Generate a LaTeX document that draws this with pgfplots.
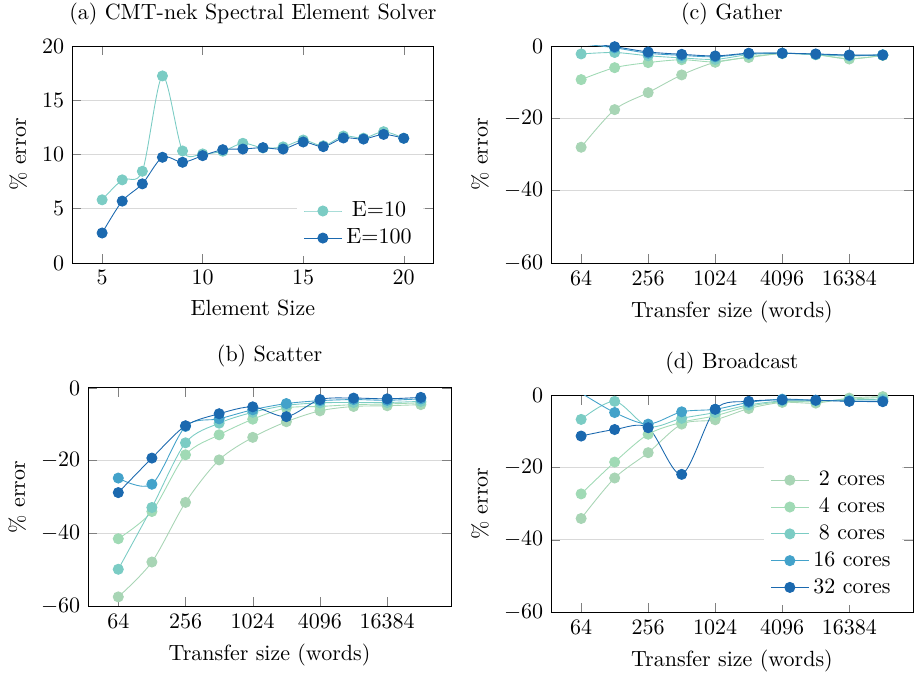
\documentclass[border=0pt]{standalone}
\usepackage{pgfplots}
\pgfplotsset{compat=1.18}
\definecolor{cA}{HTML}{A8D5B5}
\definecolor{cB}{HTML}{A0DAB5}
\definecolor{cC}{HTML}{7BCCC4}
\definecolor{cD}{HTML}{43A2CA}
\definecolor{cE}{HTML}{1B69AF}
\pgfplotsset{
  myaxis/.style={
    scale only axis,
    anchor=south west,
    ymajorgrids,
    major grid style={black!15},
    enlarge x limits=0.1,
    enlarge y limits=false,
    legend style={draw=none,fill=white},
    legend cell align=center,
    ylabel={\% error},
  },
  logaxis/.style={
    myaxis,
    xtick={64,256,1024,4096,16384},
    xticklabels={64,256,1024,4096,16384},
    ymin=-60, ymax=0,
    ytick={-60,-40,-20,0},
    xlabel={Transfer size (words)},
  },
  sA/.style={color=cA, mark=*, mark size=2.3pt, smooth, mark options={solid,fill=cA}},
  sB/.style={color=cB, mark=*, mark size=2.3pt, smooth, mark options={solid,fill=cB}},
  sC/.style={color=cC, mark=*, mark size=2.3pt, smooth, mark options={solid,fill=cC}},
  sD/.style={color=cD, mark=*, mark size=2.3pt, smooth, mark options={solid,fill=cD}},
  sE/.style={color=cE, mark=*, mark size=2.3pt, smooth, mark options={solid,fill=cE}},
}
\begin{document}
\begin{tikzpicture}
\path[use as bounding box] (0,0) rectangle (416.3pt,-307.2pt);
% (a)
\begin{axis}[myaxis, at={(32.7pt,-119.5pt)}, width=164.5pt, height=98.6pt,
  title={(a) CMT-nek Spectral Element Solver},
  xlabel={Element Size},
  ymin=0, ymax=20, ytick={0,5,10,15,20}, xtick={5,10,15,20},
  legend pos=south east]
\addplot[sC] coordinates {(5,5.82) (6,7.66) (7,8.45) (8,17.24) (9,10.32) (10,10.05) (11,10.3) (12,11.03) (13,10.6) (14,10.7) (15,11.33) (16,10.8) (17,11.7) (18,11.5) (19,12.1) (20,11.5)};
\addlegendentry{E=10}
\addplot[sE] coordinates {(5,2.76) (6,5.70) (7,7.29) (8,9.74) (9,9.28) (10,9.89) (11,10.44) (12,10.5) (13,10.63) (14,10.5) (15,11.15) (16,10.72) (17,11.52) (18,11.42) (19,11.85) (20,11.49)};
\addlegendentry{E=100}
\end{axis}
% (c)
\begin{axis}[xmode=log, log basis x=2, logaxis, at={(250.4pt,-119.5pt)}, width=164.5pt, height=98.6pt,
  title={(c) Gather}]
\addplot[sA] coordinates {(64,-28.0) (128,-17.6) (256,-12.9) (512,-8.0) (1024,-4.5) (2048,-3.2) (4096,-2.1) (8192,-2.4) (16384,-3.6) (32768,-2.6)};
\addplot[sB] coordinates {(64,-9.3) (128,-6.0) (256,-4.6) (512,-3.8) (1024,-4.4) (2048,-3.0) (4096,-2.1) (8192,-2.4) (16384,-3.5) (32768,-2.6)};
\addplot[sC] coordinates {(64,-2.2) (128,-1.8) (256,-2.7) (512,-3.3) (1024,-3.7) (2048,-2.4) (4096,-2.0) (8192,-2.4) (16384,-2.8) (32768,-2.4)};
\addplot[sD] coordinates {(64,0.6) (128,-0.5) (256,-2.0) (512,-2.6) (1024,-3.0) (2048,-2.1) (4096,-2.0) (8192,-2.3) (16384,-2.6) (32768,-2.5)};
\addplot[sE] coordinates {(64,1.0) (128,-0.2) (256,-1.65) (512,-2.3) (1024,-2.75) (2048,-2.0) (4096,-2.0) (8192,-2.2) (16384,-2.5) (32768,-2.5)};
\end{axis}
% (b)
\begin{axis}[xmode=log, log basis x=2, logaxis, at={(40.0pt,-275.4pt)}, width=165pt, height=99.1pt,
  title={(b) Scatter}]
\addplot[sA] coordinates {(64,-57.5) (128,-47.9) (256,-31.5) (512,-19.8) (1024,-13.6) (2048,-9.3) (4096,-6.3) (8192,-5.1) (16384,-4.9) (32768,-4.6)};
\addplot[sB] coordinates {(64,-41.5) (128,-34.0) (256,-18.4) (512,-12.9) (1024,-8.6) (2048,-5.5) (4096,-5.1) (8192,-4.6) (16384,-4.4) (32768,-4.1)};
\addplot[sC] coordinates {(64,-49.9) (128,-32.9) (256,-15.1) (512,-9.7) (1024,-6.7) (2048,-4.8) (4096,-4.1) (8192,-4.0) (16384,-4.0) (32768,-3.7)};
\addplot[sD] coordinates {(64,-24.8) (128,-26.5) (256,-10.6) (512,-8.5) (1024,-6.0) (2048,-4.3) (4096,-3.5) (8192,-3.2) (16384,-3.4) (32768,-3.0)};
\addplot[sE] coordinates {(64,-28.8) (128,-19.3) (256,-10.4) (512,-7.1) (1024,-5.2) (2048,-7.9) (4096,-3.2) (8192,-2.8) (16384,-3.0) (32768,-2.6)};
\end{axis}
% (d)
\begin{axis}[xmode=log, log basis x=2, logaxis, at={(250.4pt,-278.2pt)}, width=164.5pt, height=98.6pt,
  title={(d) Broadcast}, legend pos=south east]
\addplot[sA] coordinates {(64,-34.1) (128,-22.9) (256,-15.9) (512,-8.0) (1024,-6.8) (2048,-3.7) (4096,-2.0) (8192,-2.2) (16384,-0.8) (32768,-0.4)};
\addlegendentry{2 cores}
\addplot[sB] coordinates {(64,-27.3) (128,-18.5) (256,-10.8) (512,-7.5) (1024,-5.7) (2048,-3.1) (4096,-1.8) (8192,-1.8) (16384,-1.1) (32768,-0.6)};
\addlegendentry{4 cores}
\addplot[sC] coordinates {(64,-6.7) (128,-1.7) (256,-8.7) (512,-6.4) (1024,-4.8) (2048,-2.7) (4096,-1.6) (8192,-1.6) (16384,-1.3) (32768,-1.1)};
\addlegendentry{8 cores}
\addplot[sD] coordinates {(64,0.6) (128,-4.8) (256,-8.0) (512,-4.6) (1024,-3.9) (2048,-2.0) (4096,-1.1) (8192,-1.4) (16384,-1.6) (32768,-1.6)};
\addlegendentry{16 cores}
\addplot[sE] coordinates {(64,-11.3) (128,-9.5) (256,-9.0) (512,-21.9) (1024,-3.9) (2048,-1.7) (4096,-1.3) (8192,-1.4) (16384,-1.7) (32768,-1.8)};
\addlegendentry{32 cores}
\end{axis}
\end{tikzpicture}
\end{document}
